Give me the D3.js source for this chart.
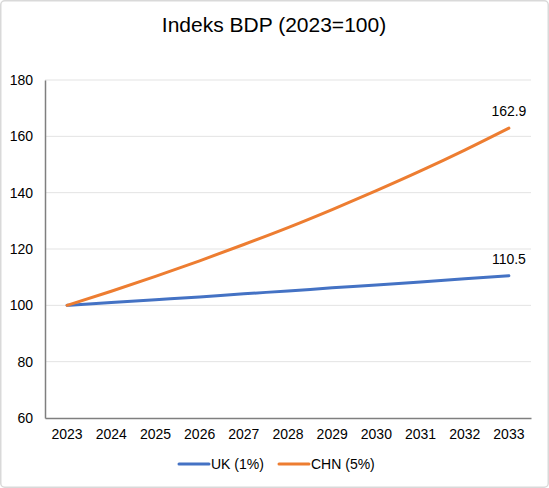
<!DOCTYPE html>
<html>
<head>
<meta charset="utf-8">
<script src="https://cdn.jsdelivr.net/npm/d3@7"></script>
<style>
    body { margin: 0; background: #fff; }
    svg { display: block; font-family: "Liberation Sans", Arial, sans-serif; }
</style>
</head>
<body>
<svg id="chart" width="549" height="488"></svg>
<script>
// dane
const years = ["2023", "2024", "2025", "2026", "2027", "2028", "2029", "2030", "2031", "2032", "2033"];
const ukValues = [100, 101, 102.0, 103.0, 104.1, 105.1, 106.2, 107.2, 108.3, 109.4, 110.5];
const chnValues = [100, 105, 110.3, 115.8, 121.6, 127.6, 134.0, 140.7, 147.7, 155.1, 162.9];
const yTicks = [60, 80, 100, 120, 140, 160, 180];
const seriesNames = ["UK (1%)", "CHN (5%)"];

const svg = d3.select("#chart");
const margin = { top: 80, right: 18, bottom: 70, left: 45 };
const width = 549 - margin.left - margin.right;
const height = 488 - margin.top - margin.bottom;

// ramka
svg.append("rect")
    .attr("x", 0.75).attr("y", 0.75)
    .attr("width", 547.5).attr("height", 486.5)
    .attr("rx", 4)
    .attr("fill", "#fff")
    .attr("stroke", "#d9d9d9")
    .attr("stroke-width", 1.5);

svg.append("text")
    .attr("x", 274).attr("y", 32)
    .attr("text-anchor", "middle")
    .attr("font-size", "21px")
    .attr("fill", "#000")
    .text("Indeks BDP (2023=100)");

const x = d3.scaleBand().domain(years).range([0, width]);
const y = d3.scaleLinear().domain([60, 180]).range([height, 0]);
const cx = d => x(d) + x.bandwidth() / 2;

const chart = svg.append("g")
    .attr("transform", `translate(${margin.left},${margin.top})`);

// siatka
chart.selectAll(".grid")
    .data(yTicks.slice(1))
    .enter()
    .append("line")
    .attr("x1", 0).attr("x2", width)
    .attr("y1", d => y(d)).attr("y2", d => y(d))
    .attr("stroke", "#e3e3e3")
    .attr("stroke-width", 1);

const yAxis = chart.append("g")
    .call(d3.axisLeft(y).tickValues(yTicks).tickSize(0).tickPadding(12));
yAxis.select(".domain").attr("stroke", "#7f7f7f").attr("stroke-width", 1.5);
yAxis.selectAll("text").attr("font-size", "14px").attr("fill", "#000")
    .attr("font-family", "Liberation Sans, Arial, sans-serif");

const xAxis = chart.append("g")
    .attr("transform", `translate(0,${height})`)
    .call(d3.axisBottom(x).tickSize(0).tickPadding(11));
xAxis.select(".domain").attr("stroke", "#7f7f7f").attr("stroke-width", 1.5);
xAxis.selectAll("text").attr("font-size", "14px").attr("fill", "#000")
    .attr("font-family", "Liberation Sans, Arial, sans-serif");

const line = d3.line()
    .x((d, i) => cx(years[i]))
    .y(d => y(d))
    .curve(d3.curveMonotoneX);

const series = [
    { name: seriesNames[0], values: ukValues, color: "#4472c4" },
    { name: seriesNames[1], values: chnValues, color: "#ed7d31" }
];

series.forEach(s => {
    chart.append("path")
        .datum(s.values)
        .attr("fill", "none")
        .attr("stroke", s.color)
        .attr("stroke-width", 3)
        .attr("stroke-linecap", "round")
        .attr("d", line);

    const last = s.values.length - 1;
    chart.append("text")
        .attr("x", cx(years[last]))
        .attr("y", y(s.values[last]) - 12)
        .attr("text-anchor", "middle")
        .attr("font-size", "14px")
        .attr("fill", "#000")
        .text(s.values[last].toFixed(1));
});

// legenda
const legend = svg.append("g").attr("transform", "translate(179,464)");
const legendX = [0, 100];
series.forEach((s, i) => {
    const g = legend.append("g").attr("transform", `translate(${legendX[i]},0)`);
    g.append("line")
        .attr("x1", 0).attr("x2", 30)
        .attr("y1", 0).attr("y2", 0)
        .attr("stroke", s.color)
        .attr("stroke-width", 3)
        .attr("stroke-linecap", "round");
    g.append("text")
        .attr("x", 32).attr("y", 5)
        .attr("font-size", "14px")
        .attr("fill", "#000")
        .text(s.name);
});
</script>
</body>
</html>
